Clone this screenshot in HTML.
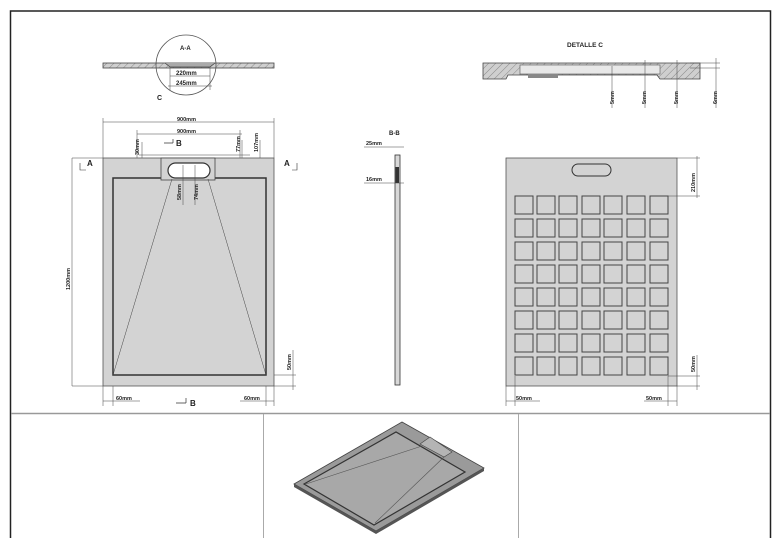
<!DOCTYPE html>
<html><head><meta charset="utf-8"><style>
html,body{margin:0;padding:0;background:#fff;}
svg{display:block;}
text{font-family:"Liberation Sans",sans-serif;font-weight:bold;fill:#222;}
</style></head><body>
<svg width="772" height="538" viewBox="0 0 772 538" xmlns="http://www.w3.org/2000/svg">
<defs>
<pattern id="h" width="5" height="5" patternUnits="userSpaceOnUse" patternTransform="rotate(45)">
<rect width="5" height="5" fill="#cfcfcf"/><line x1="0" y1="0" x2="0" y2="5" stroke="#777" stroke-width="0.8"/>
</pattern>
</defs>
<!-- frame -->
<rect x="10.5" y="11" width="760" height="530" fill="none" stroke="#222" stroke-width="1.5"/>
<line x1="11" y1="413.5" x2="770" y2="413.5" stroke="#999" stroke-width="1.5"/>
<line x1="263.5" y1="414" x2="263.5" y2="538" stroke="#aaa"/>
<line x1="518.5" y1="414" x2="518.5" y2="538" stroke="#aaa"/>

<!-- A-A section -->
<rect x="103" y="63" width="171" height="5" fill="url(#h)" stroke="#444" stroke-width="0.8"/>
<path d="M165 63 L170 67 L210 67 L215 63" fill="#aaa" stroke="#444" stroke-width="0.8"/>
<circle cx="186" cy="65" r="30" fill="none" stroke="#555" stroke-width="0.8"/>
<text x="180" y="50" font-size="6">A-A</text>
<line x1="170" y1="76" x2="210" y2="76" stroke="#444" stroke-width="0.6"/>
<line x1="168" y1="86" x2="212" y2="86" stroke="#444" stroke-width="0.6"/>
<line x1="170" y1="68" x2="170" y2="90" stroke="#444" stroke-width="0.5"/>
<line x1="210" y1="68" x2="210" y2="90" stroke="#444" stroke-width="0.5"/>
<text x="176" y="75" font-size="6">220mm</text>
<text x="176" y="85" font-size="6">245mm</text>
<text x="157" y="100" font-size="7">C</text>

<!-- Detalle C -->
<text x="567" y="47" font-size="6.5">DETALLE   C</text>
<path d="M483 63 L700 63 L700 79 L660 79 L657 75 L508 75 L506 79 L483 79 Z" fill="url(#h)" stroke="#444" stroke-width="0.8"/>
<rect x="520" y="65" width="140" height="9" fill="#e8e8e8" stroke="#555" stroke-width="0.6"/>
<rect x="528" y="74" width="30" height="4" fill="#888"/>
<line x1="612" y1="66" x2="612" y2="108" stroke="#444" stroke-width="0.5"/>
<line x1="645" y1="60" x2="645" y2="108" stroke="#444" stroke-width="0.5"/>
<line x1="677" y1="60" x2="677" y2="108" stroke="#444" stroke-width="0.5"/>
<line x1="716" y1="58" x2="716" y2="108" stroke="#444" stroke-width="0.5"/>
<line x1="690" y1="63" x2="720" y2="63" stroke="#444" stroke-width="0.5"/>
<line x1="690" y1="68" x2="720" y2="68" stroke="#444" stroke-width="0.5"/>
<g font-size="5.5">
<text transform="translate(614,104) rotate(-90)">5mm</text>
<text transform="translate(646,104) rotate(-90)">5mm</text>
<text transform="translate(678,104) rotate(-90)">5mm</text>
<text transform="translate(717,104) rotate(-90)">6mm</text>
</g>

<!-- left plan -->
<g stroke="#444" stroke-width="0.5" fill="none">
<line x1="103" y1="122" x2="274" y2="122"/>
<line x1="137" y1="134" x2="242" y2="134"/>
<line x1="103" y1="118" x2="103" y2="158"/>
<line x1="274" y1="118" x2="274" y2="158"/>
<line x1="137" y1="130" x2="137" y2="158"/>
<line x1="240" y1="130" x2="240" y2="158"/>
<line x1="139" y1="155" x2="250" y2="155"/>
<line x1="142" y1="142" x2="142" y2="165"/>
<line x1="242" y1="140" x2="242" y2="178"/>
<line x1="260" y1="140" x2="260" y2="178"/>
<line x1="72" y1="158" x2="103" y2="158"/>
<line x1="72" y1="386" x2="103" y2="386"/>
<line x1="72" y1="158" x2="72" y2="386"/>
<line x1="103" y1="386" x2="103" y2="406"/>
<line x1="113" y1="376" x2="113" y2="406"/>
<line x1="266" y1="376" x2="266" y2="406"/>
<line x1="274" y1="386" x2="274" y2="406"/>
<line x1="103" y1="401" x2="140" y2="401"/>
<line x1="240" y1="401" x2="274" y2="401"/>
<line x1="266" y1="375" x2="296" y2="375"/>
<line x1="274" y1="386" x2="296" y2="386"/>
<line x1="293" y1="350" x2="293" y2="390"/>
</g>
<g font-size="5.5">
<text x="177" y="121">900mm</text>
<text x="177" y="133">900mm</text>
<text transform="translate(139,155) rotate(-90)">30mm</text>
<text transform="translate(240,152) rotate(-90)">77mm</text>
<text transform="translate(258,152) rotate(-90)">107mm</text>
<text transform="translate(70,290) rotate(-90)">1200mm</text>
<text x="116" y="400">60mm</text>
<text x="244" y="400">60mm</text>
<text transform="translate(291,370) rotate(-90)">50mm</text>
</g>
<text x="176" y="146" font-size="8">B</text>
<path d="M164 143 H173 M173 139 V143" stroke="#333" stroke-width="0.7" fill="none"/>
<text x="190" y="406" font-size="8">B</text>
<path d="M176 403 H186 M186 398 V403" stroke="#333" stroke-width="0.7" fill="none"/>
<text x="87" y="166" font-size="8">A</text>
<path d="M80 163 V170 H86" stroke="#333" stroke-width="0.6" fill="none"/>
<text x="284" y="166" font-size="8">A</text>
<path d="M297 163 V170 H292" stroke="#333" stroke-width="0.6" fill="none"/>

<rect x="103" y="158" width="171" height="228" fill="#d3d3d3" stroke="#555" stroke-width="0.8"/>
<rect x="113" y="178" width="153" height="197" fill="#d3d3d3" stroke="#333" stroke-width="1.5"/>
<rect x="161" y="158" width="54" height="22" fill="#d3d3d3" stroke="#444" stroke-width="0.8"/>
<rect x="168" y="163" width="42" height="15" rx="7.5" fill="#fff" stroke="#333" stroke-width="1.2"/>
<line x1="113" y1="375" x2="172" y2="179" stroke="#444" stroke-width="0.5"/>
<line x1="266" y1="375" x2="208" y2="179" stroke="#444" stroke-width="0.5"/>
<line x1="183" y1="165" x2="183" y2="205" stroke="#444" stroke-width="0.5"/>
<line x1="195" y1="165" x2="195" y2="205" stroke="#444" stroke-width="0.5"/>
<g font-size="5.5">
<text transform="translate(181,200) rotate(-90)">58mm</text>
<text transform="translate(198,200) rotate(-90)">74mm</text>
</g>

<!-- B-B -->
<text x="389" y="135" font-size="6">B-B</text>
<rect x="395" y="155" width="5" height="230" fill="#d8d8d8" stroke="#333" stroke-width="0.8"/>
<rect x="395.5" y="167" width="3.5" height="16" fill="#333"/>
<line x1="364" y1="147" x2="404" y2="147" stroke="#444" stroke-width="0.5"/>
<line x1="364" y1="183" x2="404" y2="183" stroke="#444" stroke-width="0.5"/>
<text x="366" y="145" font-size="5.5">25mm</text>
<text x="366" y="181" font-size="5.5">16mm</text>

<!-- right plan -->
<rect x="506" y="158" width="171" height="228" fill="#d3d3d3" stroke="#555" stroke-width="0.8"/>
<rect x="572" y="164" width="39" height="12" rx="6" fill="#d3d3d3" stroke="#333" stroke-width="1"/>
<g fill="#d3d3d3" stroke="#444" stroke-width="1">
<g id="row">
<rect x="515" y="196" width="18" height="18"/><rect x="537" y="196" width="18" height="18"/><rect x="559" y="196" width="18" height="18"/><rect x="582" y="196" width="18" height="18"/><rect x="604" y="196" width="18" height="18"/><rect x="627" y="196" width="18" height="18"/><rect x="650" y="196" width="18" height="18"/>
</g>
<use href="#row" y="23"/><use href="#row" y="46"/><use href="#row" y="69"/><use href="#row" y="92"/><use href="#row" y="115"/><use href="#row" y="138"/><use href="#row" y="161"/>
</g>
<g stroke="#444" stroke-width="0.5" fill="none">
<line x1="677" y1="158" x2="700" y2="158"/>
<line x1="668" y1="196" x2="700" y2="196"/>
<line x1="697" y1="156" x2="697" y2="198"/>
<line x1="668" y1="376" x2="700" y2="376"/>
<line x1="677" y1="386" x2="700" y2="386"/>
<line x1="697" y1="355" x2="697" y2="390"/>
<line x1="506" y1="386" x2="506" y2="406"/>
<line x1="515" y1="376" x2="515" y2="406"/>
<line x1="668" y1="376" x2="668" y2="406"/>
<line x1="677" y1="386" x2="677" y2="406"/>
<line x1="506" y1="401" x2="540" y2="401"/>
<line x1="644" y1="401" x2="677" y2="401"/>
</g>
<g font-size="5.5">
<text transform="translate(695,192) rotate(-90)">210mm</text>
<text transform="translate(695,372) rotate(-90)">50mm</text>
<text x="516" y="400">50mm</text>
<text x="646" y="400">50mm</text>
</g>

<!-- iso tray -->
<path d="M294 484 L402 422 L484 468 L376 531 Z" fill="#9a9a9a" stroke="#444" stroke-width="0.8"/>
<path d="M294 484 L294 487 L376 534 L484 471 L484 468 L376 531 Z" fill="#555"/>
<path d="M304 484 L396 432 L465 472 L374 525 Z" fill="#a8a8a8" stroke="#333" stroke-width="1.2"/>
<path d="M420 444 L430 437 L452 452 L444 457 Z" fill="#b4b4b4" stroke="#444" stroke-width="0.6"/>
<line x1="306" y1="484" x2="422" y2="446" stroke="#555" stroke-width="0.6"/>
<line x1="375" y1="523" x2="444" y2="457" stroke="#555" stroke-width="0.6"/>
</svg>
</body></html>
